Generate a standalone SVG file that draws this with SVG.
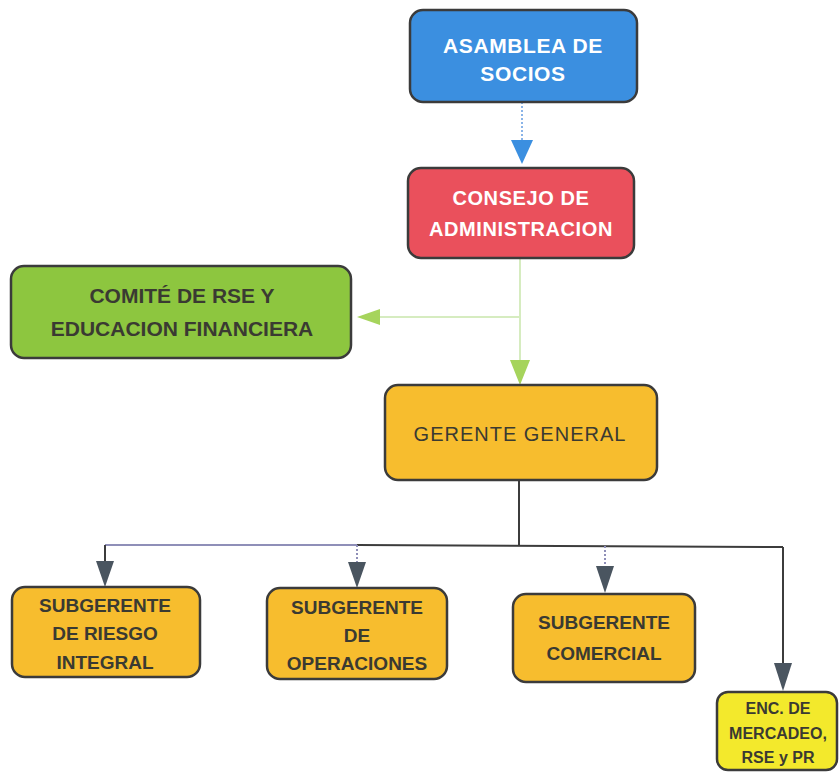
<svg xmlns="http://www.w3.org/2000/svg" width="839" height="772" viewBox="0 0 839 772">
<style>
.box{stroke:#3b3b3b;stroke-width:2.5}
.t{font-family:"Liberation Sans",Arial,sans-serif;font-weight:bold;text-anchor:middle}
.w{fill:#ffffff;font-size:20px;letter-spacing:0.6px}
.d{fill:#3a3a32;font-size:19px}
.ln{fill:none;stroke-width:2}
</style>
<rect width="839" height="772" fill="#ffffff"/>
<g id="connectors">
  <line class="ln" x1="522" y1="102" x2="522" y2="142" stroke="#8ab4e8" stroke-dasharray="2,2"/>
  <path d="M511,140 L533,140 L522,164 Z" fill="#3b8fe0"/>
  <line class="ln" x1="520" y1="258" x2="520" y2="362" stroke="#d6ecc0"/>
  <line class="ln" x1="520" y1="317" x2="378" y2="317" stroke="#d6ecc0"/>
  <path d="M380,309 L380,325 L357,317 Z" fill="#a6d45c"/>
  <path d="M510,360 L530,360 L520,385 Z" fill="#a6d45c"/>
  <line class="ln" x1="519" y1="480" x2="519" y2="546" stroke="#3c3c3c"/>
  <line class="ln" x1="105" y1="545" x2="357" y2="545" stroke="#8f8fb8"/>
  <line class="ln" x1="357" y1="545" x2="783" y2="547" stroke="#3c3c3c"/>
  <line class="ln" x1="105" y1="545" x2="105" y2="565" stroke="#3c3c3c"/>
  <path d="M96,561 L114,561 L105,587 Z" fill="#4a5560"/>
  <line class="ln" x1="357" y1="545" x2="357" y2="565" stroke="#8f8fb8" stroke-dasharray="2,2"/>
  <path d="M348,562 L366,562 L357,588 Z" fill="#4a5560"/>
  <line class="ln" x1="605" y1="546" x2="605" y2="568" stroke="#8f8fb8" stroke-dasharray="2,2"/>
  <path d="M596,566 L614,566 L605,593 Z" fill="#4a5560"/>
  <line class="ln" x1="783" y1="547" x2="783" y2="666" stroke="#3c3c3c"/>
  <path d="M774,663 L792,663 L783,691 Z" fill="#4a5560"/>
</g>
<g id="asamblea">
  <rect class="box" x="410" y="10" width="227" height="92" rx="13" fill="#3b8fe0"/>
  <text class="t w" x="523" y="53" style="font-size:21px">ASAMBLEA DE</text>
  <text class="t w" x="523" y="81" style="font-size:21px">SOCIOS</text>
</g>
<g id="consejo">
  <rect class="box" x="408" y="168" width="226" height="90" rx="13" fill="#ea505c"/>
  <text class="t w" x="521" y="205">CONSEJO DE</text>
  <text class="t w" x="521" y="236">ADMINISTRACION</text>
</g>
<g id="comite">
  <rect class="box" x="11" y="266" width="340" height="92" rx="13" fill="#8dc63f"/>
  <text class="t d" x="182" y="303" style="font-size:21px">COMITÉ DE RSE Y</text>
  <text class="t d" x="182" y="336" style="font-size:21px">EDUCACION FINANCIERA</text>
</g>
<g id="gerente">
  <rect class="box" x="385" y="385" width="272" height="95" rx="13" fill="#f7bd2e"/>
  <text class="t d" x="520" y="441" style="font-weight:normal;font-size:20px;letter-spacing:1px">GERENTE GENERAL</text>
</g>
<g id="sub-riesgo">
  <rect class="box" x="12" y="587" width="188" height="90" rx="13" fill="#f7bd2e"/>
  <text class="t d" x="105" y="612">SUBGERENTE</text>
  <text class="t d" x="105" y="640">DE RIESGO</text>
  <text class="t d" x="105" y="669">INTEGRAL</text>
</g>
<g id="sub-operaciones">
  <rect class="box" x="267" y="588" width="180" height="91" rx="13" fill="#f7bd2e"/>
  <text class="t d" x="357" y="614">SUBGERENTE</text>
  <text class="t d" x="357" y="642">DE</text>
  <text class="t d" x="357" y="670">OPERACIONES</text>
</g>
<g id="sub-comercial">
  <rect class="box" x="513" y="594" width="182" height="88" rx="13" fill="#f7bd2e"/>
  <text class="t d" x="604" y="629">SUBGERENTE</text>
  <text class="t d" x="604" y="660">COMERCIAL</text>
</g>
<g id="enc-mercadeo">
  <rect class="box" x="717" y="692" width="120" height="78" rx="11" fill="#f3e92c"/>
  <text class="t d" x="778" y="714" style="font-size:16px">ENC. DE</text>
  <text class="t d" x="778" y="739" style="font-size:16px">MERCADEO,</text>
  <text class="t d" x="778" y="763" style="font-size:16px">RSE y PR</text>
</g>
</svg>
